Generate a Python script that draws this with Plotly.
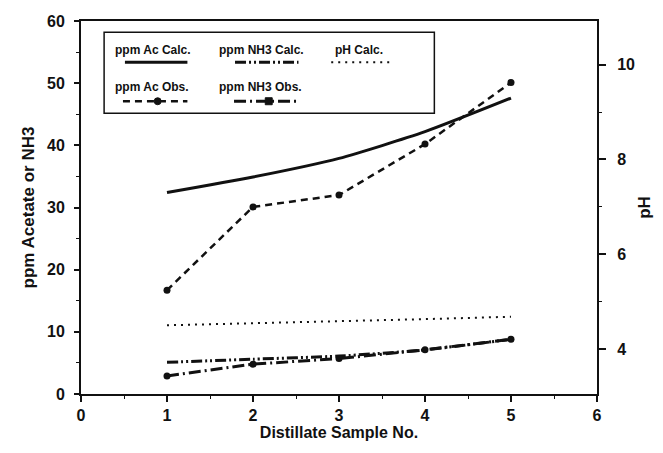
import plotly.graph_objects as go

# ---------------- data ----------------
samples = [1, 2, 3, 4, 5]
ac_calc = [32.4, 34.9, 37.9, 42.2, 47.6]
ac_obs = [16.7, 30.1, 32.0, 40.2, 50.1]
nh3_calc = [5.1, 5.6, 6.1, 7.1, 8.8]
nh3_obs = [2.9, 4.8, 5.7, 7.1, 8.8]
ph_calc = [4.50, 4.54, 4.58, 4.63, 4.68]

x_ticks = [0, 1, 2, 3, 4, 5, 6]
y_ticks = [0, 10, 20, 30, 40, 50, 60]
y2_ticks = [4, 6, 8, 10]

legend_labels = ["ppm Ac Calc.", "ppm NH3 Calc.", "pH Calc.", "ppm Ac Obs.", "ppm NH3 Obs."]

# ---------------- styles ----------------
BLACK = "#111111"
FONT = "Liberation Sans, Arial, sans-serif"
DASH_AC_OBS = "7px,5px"
DASH_NH3_CALC = "11px,3px,2px,3px,2px,3px"
DASH_NH3_OBS = "12px,4px,2px,4px"
DASH_PH = "2px,5px"

fig = go.Figure()

fig.add_trace(go.Scatter(x=samples, y=ac_calc, mode="lines", name=legend_labels[0],
                         line=dict(color=BLACK, width=3, shape="spline", smoothing=0.6)))
fig.add_trace(go.Scatter(x=samples, y=nh3_calc, mode="lines", name=legend_labels[1],
                         line=dict(color=BLACK, width=3, dash=DASH_NH3_CALC, shape="spline", smoothing=0.6)))
fig.add_trace(go.Scatter(x=samples, y=ph_calc, mode="lines", name=legend_labels[2], yaxis="y2",
                         line=dict(color=BLACK, width=2, dash=DASH_PH)))
fig.add_trace(go.Scatter(x=samples, y=ac_obs, mode="lines+markers", name=legend_labels[3],
                         line=dict(color=BLACK, width=2.5, dash=DASH_AC_OBS),
                         marker=dict(symbol="circle", size=7, color=BLACK)))
fig.add_trace(go.Scatter(x=samples, y=nh3_obs, mode="lines+markers", name=legend_labels[4],
                         line=dict(color=BLACK, width=3, dash=DASH_NH3_OBS),
                         marker=dict(symbol="circle", size=7, color=BLACK)))

# ---------------- layout ----------------
L, R, T, B = 80.7, 62, 20.7, 59
W, H = 663, 453
plot_w = W - L - R
plot_h = H - T - B

def px(xp):
    return (xp - L) / plot_w

def py(yp):
    return (H - B - yp) / plot_h

tickfont = dict(family=FONT, size=16, color=BLACK, weight="bold")
xtitlefont = dict(family=FONT, size=16, color=BLACK, weight="bold")
ytitlefont = dict(family=FONT, size=17, color=BLACK, weight="bold")

fig.update_layout(
    width=W, height=H,
    margin=dict(l=L, r=R, t=T, b=B, pad=0),
    paper_bgcolor="white", plot_bgcolor="white",
    showlegend=False,
    xaxis=dict(range=[0, 6], tickvals=x_ticks, ticktext=[str(v) for v in x_ticks],
               showgrid=False, zeroline=False, showline=True, linecolor=BLACK, linewidth=2,
               mirror=True, ticks="outside", ticklen=6, tickwidth=1.5, tickcolor=BLACK,
               minor=dict(dtick=0.5, ticks="outside", ticklen=3, tickwidth=1.2, tickcolor=BLACK),
               tickfont=tickfont,
               title=dict(text="Distillate Sample No.", font=xtitlefont, standoff=4)),
    yaxis=dict(range=[0, 60], tickvals=y_ticks, showgrid=False, zeroline=False,
               showline=True, linecolor=BLACK, linewidth=2,
               ticks="outside", ticklen=5, tickwidth=1.5, tickcolor=BLACK,
               ticklabelstandoff=6,
               minor=dict(dtick=5, ticks="outside", ticklen=3, tickwidth=1.2, tickcolor=BLACK),
               tickfont=tickfont,
               title=dict(text="ppm Acetate or NH3", font=ytitlefont, standoff=8)),
    yaxis2=dict(range=[3.05, 10.92], tickvals=y2_ticks, overlaying="y", side="right",
                showgrid=False, zeroline=False, showline=True, linecolor=BLACK, linewidth=2,
                ticks="outside", ticklen=7, tickwidth=1.5, tickcolor=BLACK,
                ticklabelstandoff=8,
                minor=dict(dtick=1, ticks="outside", ticklen=3, tickwidth=1.2, tickcolor=BLACK),
                tickfont=tickfont,
                title=dict(text="pH", font=ytitlefont, standoff=4)),
)

# ---------------- custom legend (text above sample line) ----------------
shapes = [dict(type="rect", xref="paper", yref="paper",
               x0=px(104), x1=px(437), y0=py(113), y1=py(32),
               line=dict(color=BLACK, width=1.5), fillcolor="white", layer="above")]
annotations = []
legend_entries = [
    (legend_labels[0], 113, 50, 125, 188, 62, "solid", 3, None),
    (legend_labels[1], 218, 50, 236, 300, 62, DASH_NH3_CALC, 3, None),
    (legend_labels[2], 335, 50, 333, 395, 62, DASH_PH, 2, None),
    (legend_labels[3], 113, 87, 123, 188, 101, DASH_AC_OBS, 2.5, ("circle", 158)),
    (legend_labels[4], 218, 87, 235, 298, 101, DASH_NH3_OBS, 3, ("square", 270)),
]
for text, tx, ty, lx0, lx1, ly, dash, w, mk in legend_entries:
    annotations.append(dict(text=text, xref="paper", yref="paper", x=px(tx), y=py(ty),
                            xanchor="left", yanchor="middle", showarrow=False,
                            font=dict(family=FONT, size=12, color=BLACK, weight="bold")))
    shapes.append(dict(type="line", xref="paper", yref="paper",
                       x0=px(lx0), x1=px(lx1), y0=py(ly), y1=py(ly),
                       line=dict(color=BLACK, width=w, dash=dash), layer="above"))
    if mk:
        kind, mx = mk
        r = 3.5
        shapes.append(dict(type="circle" if kind == "circle" else "rect",
                           xref="paper", yref="paper",
                           x0=px(mx - r), x1=px(mx + r), y0=py(ly + r), y1=py(ly - r),
                           line=dict(color=BLACK, width=1), fillcolor=BLACK, layer="above"))

fig.update_layout(shapes=shapes, annotations=annotations)

fig.write_html("out.html")
